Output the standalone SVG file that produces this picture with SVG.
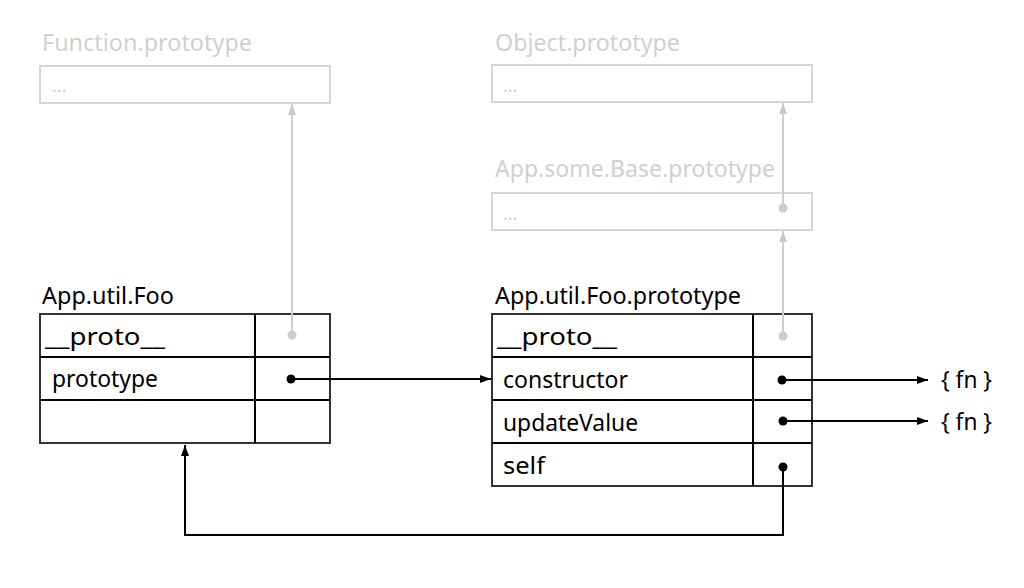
<svg xmlns="http://www.w3.org/2000/svg" width="1024" height="588" viewBox="0 0 1024 588">
<style>
text{font-family:"Noto Sans","Open Sans","Liberation Sans",sans-serif;font-size:23px;fill:#000}
.g text,text.g{fill:#d0d0d0}
.box{fill:#fff;stroke:#333;stroke-width:2}
.gbox{fill:#fff;stroke:#d6d6d6;stroke-width:2}
.ln{fill:none;stroke:#000;stroke-width:2}
.gln{fill:none;stroke:#cfcfcf;stroke-width:2}
.dot{fill:#000}
.gdot{fill:#cccccc}
.g text.dots{font-size:18px;fill:#cfcfcf}
</style>
<defs>
<marker id="ah" markerWidth="12" markerHeight="10" refX="11" refY="5" orient="auto" markerUnits="userSpaceOnUse"><path d="M0,1 L11,5 L0,9 Z" fill="#000"/></marker>
<marker id="gah" markerWidth="12" markerHeight="10" refX="11" refY="5" orient="auto" markerUnits="userSpaceOnUse"><path d="M0,1 L11,5 L0,9 Z" fill="#c8c8c8"/></marker>
</defs>
<g id="function-prototype" class="g">
<text x="42" y="51" textLength="210" lengthAdjust="spacingAndGlyphs">Function.prototype</text>
<rect class="gbox" x="40" y="66" width="290" height="37"/>
<text class="dots" x="52" y="92">...</text>
</g>
<g id="object-prototype" class="g">
<text x="495" y="51" textLength="185" lengthAdjust="spacingAndGlyphs">Object.prototype</text>
<rect class="gbox" x="492" y="65" width="320" height="37"/>
<text class="dots" x="503" y="92">...</text>
</g>
<g id="base-prototype" class="g">
<text x="495" y="177" textLength="280" lengthAdjust="spacingAndGlyphs">App.some.Base.prototype</text>
<rect class="gbox" x="492" y="193" width="320" height="37"/>
<text class="dots" x="503" y="220">...</text>
</g>
<g id="foo">
<text x="42" y="304" textLength="132" lengthAdjust="spacingAndGlyphs">App.util.Foo</text>
<rect class="box" x="40" y="314" width="290" height="129"/>
<line class="ln" stroke="#333" x1="40" y1="357" x2="330" y2="357"/>
<line class="ln" stroke="#333" x1="40" y1="400" x2="330" y2="400"/>
<line class="ln" stroke="#333" x1="255" y1="314" x2="255" y2="443"/>
<text x="45" y="345" textLength="120" lengthAdjust="spacingAndGlyphs">__proto__</text>
<text x="52" y="387" textLength="106" lengthAdjust="spacingAndGlyphs">prototype</text>
</g>
<g id="foo-prototype">
<text x="495" y="304" textLength="246" lengthAdjust="spacingAndGlyphs">App.util.Foo.prototype</text>
<rect class="box" x="492" y="314" width="320" height="172"/>
<line class="ln" stroke="#333" x1="492" y1="357" x2="812" y2="357"/>
<line class="ln" stroke="#333" x1="492" y1="400" x2="812" y2="400"/>
<line class="ln" stroke="#333" x1="492" y1="443" x2="812" y2="443"/>
<line class="ln" stroke="#333" x1="753" y1="314" x2="753" y2="486"/>
<text x="497" y="345" textLength="120" lengthAdjust="spacingAndGlyphs">__proto__</text>
<text x="503" y="388" textLength="125" lengthAdjust="spacingAndGlyphs">constructor</text>
<text x="503" y="431" textLength="135" lengthAdjust="spacingAndGlyphs">updateValue</text>
<text x="503" y="474" textLength="42" lengthAdjust="spacingAndGlyphs">self</text>
</g>
<g id="fn1"><text x="941" y="388" textLength="51" lengthAdjust="spacingAndGlyphs">{ fn }</text></g>
<g id="fn2"><text x="941" y="430" textLength="51" lengthAdjust="spacingAndGlyphs">{ fn }</text></g>
<g id="connectors">
<line class="gln" x1="292" y1="335" x2="292" y2="104" marker-end="url(#gah)"/>
<circle class="gdot" cx="292" cy="335" r="4.5"/>
<line class="gln" x1="783" y1="336" x2="783" y2="231" marker-end="url(#gah)"/>
<circle class="gdot" cx="783" cy="336" r="4.5"/>
<line class="gln" x1="783" y1="208" x2="783" y2="103" marker-end="url(#gah)"/>
<circle class="gdot" cx="783" cy="208" r="4.5"/>
<line class="ln" x1="291" y1="379" x2="491" y2="379" marker-end="url(#ah)"/>
<circle class="dot" cx="291" cy="379" r="4.5"/>
<line class="ln" x1="782" y1="380" x2="928" y2="380" marker-end="url(#ah)"/>
<circle class="dot" cx="782" cy="380" r="4.5"/>
<line class="ln" x1="783" y1="421" x2="928" y2="421" marker-end="url(#ah)"/>
<circle class="dot" cx="783" cy="421" r="4.5"/>
<polyline class="ln" points="783,467 783,535 185,535 185,445" marker-end="url(#ah)"/>
<circle class="dot" cx="783" cy="467" r="4.5"/>
</g>
</svg>
